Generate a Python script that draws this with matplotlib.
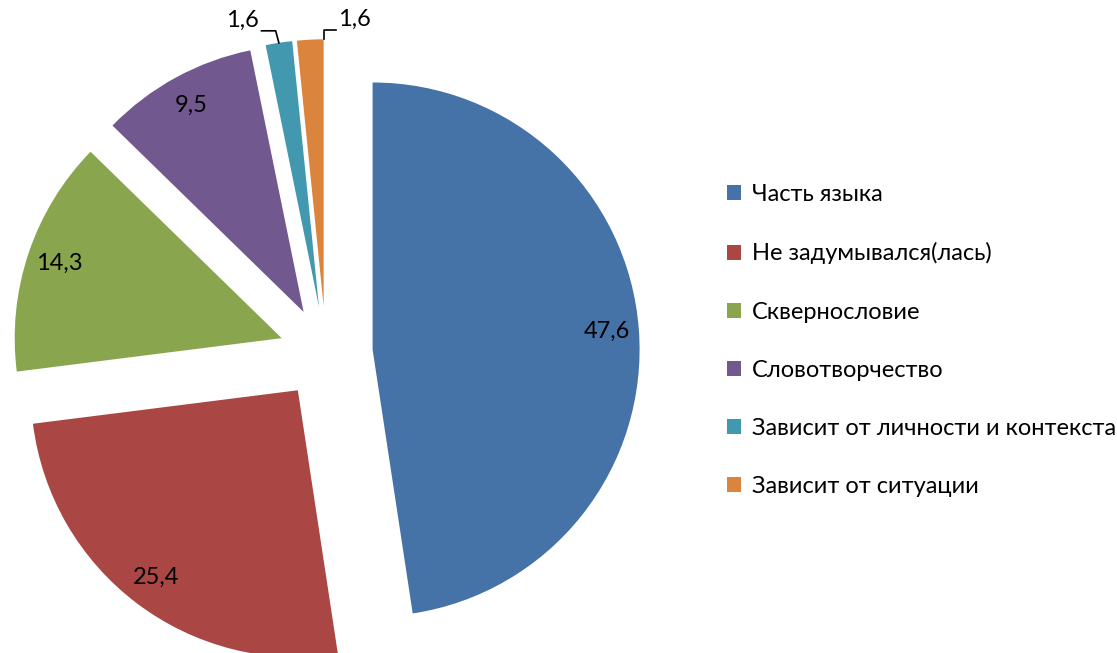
import numpy as np
import matplotlib
matplotlib.use('Agg')
import matplotlib.pyplot as plt

plt.rcParams['font.family'] = ['Lato', 'DejaVu Sans']

labels = ['Часть языка', 'Не задумывался(лась)', 'Сквернословие',
          'Словотворчество', 'Зависит от личности и контекста', 'Зависит от ситуации']
values = [47.6, 25.4, 14.3, 9.5, 1.6, 1.6]
colors = ['#4572A7', '#AA4643', '#89A54E', '#71588F', '#4198AF', '#DB843D']

W, H = 1117, 653
cx, cy, R = 326, 353, 267   # pie centre / radius in pixels

fig = plt.figure(figsize=(W / 100, H / 100), dpi=100)
ax = fig.add_axes([0, 0, 1, 1])

wedges, _ = ax.pie(values, colors=colors, startangle=90, counterclock=False,
                   explode=[0.175] * len(values), wedgeprops=dict(linewidth=0))
ax.set_xlim(-cx / R, (W - cx) / R)
ax.set_ylim((cy - H) / R, cy / R)
ax.set_aspect('equal')
ax.axis('off')

fs = 17
def fmt(v):
    return f"{v:.1f}".replace('.', ',')

for i, (w, v) in enumerate(zip(wedges, values)):
    m = np.deg2rad((w.theta1 + w.theta2) / 2)
    x0, y0 = w.center
    if v > 5:
        ax.text(x0 + 0.88 * w.r * np.cos(m), y0 + 0.88 * w.r * np.sin(m), fmt(v),
                ha='center', va='center', fontsize=fs)
    else:
        if i == 4:
            px, py = x0 + w.r * np.cos(m), y0 + w.r * np.sin(m)
            pts = [(px, py), (px - 0.012, py + 0.045), (px - 0.065, py + 0.045)]
            tx, ha = px - 0.075, 'right'
        else:
            a = np.deg2rad(min(w.theta1, w.theta2))
            px, py = x0 + w.r * np.cos(a), y0 + w.r * np.sin(a)
            pts = [(px, py), (px, py + 0.035), (px + 0.045, py + 0.035)]
            tx, ha = px + 0.055, 'left'
        xs, ys = zip(*pts)
        ax.plot(xs, ys, color='black', lw=1.2)
        ax.text(tx, pts[-1][1] + 0.04, fmt(v), ha=ha, va='center', fontsize=fs)

leg = fig.legend(wedges, labels, loc='center left', bbox_to_anchor=(727 / W, 1 - 340.5 / H),
                 frameon=False, fontsize=fs, handlelength=0.6, handleheight=0.6,
                 handletextpad=0.45, labelspacing=1.57, borderpad=0, borderaxespad=0)

fig.savefig('out.png', dpi=100)
